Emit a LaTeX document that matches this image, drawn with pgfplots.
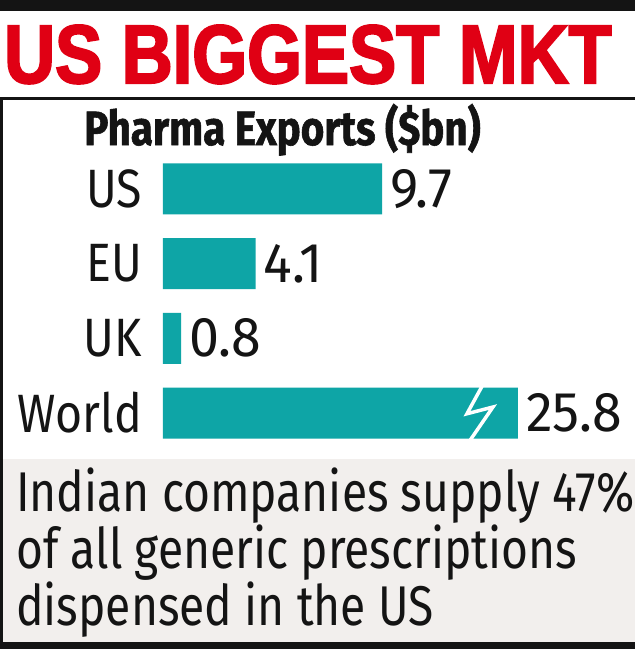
\documentclass[border=0pt]{standalone}
\usepackage{fontspec}
\usepackage{pgfplots}
\pgfplotsset{compat=1.18}
\newfontfamily\labfam{Fira Sans}[FakeStretch=0.86]
\newfontfamily\numfam{Fira Sans}[FakeStretch=0.96]
\newfontfamily\footfam{Fira Sans}[FakeStretch=0.825]
\newfontfamily\subfam{Fira Sans}[FakeStretch=0.84, FakeBold=1.2]
\newfontfamily\titfam{Liberation Sans}[FakeStretch=0.85, FakeBold=2.5]
\definecolor{titred}{RGB}{224,0,20}
\definecolor{barteal}{RGB}{14,165,166}
\definecolor{boxgray}{RGB}{242,239,237}
\definecolor{ink}{RGB}{20,20,20}
\newcommand\labf{\labfam\fontsize{54pt}{60pt}\selectfont}
\newcommand\numf{\numfam\fontsize{56pt}{60pt}\selectfont}
\begin{document}
\begin{tikzpicture}
\useasboundingbox (0pt,0pt) rectangle (635pt,-649pt);
\fill[white] (0pt,0pt) rectangle (635pt,-649pt);
% top black band
\fill[ink] (0pt,0pt) rectangle (635pt,-11pt);
% title
\node[anchor=base west, inner sep=0pt, text=titred] at (4pt,-83pt)
  {\titfam\bfseries\fontsize{83pt}{90pt}\selectfont US BIGGEST MKT};
% box top line and left border
\fill[ink] (0pt,-97pt) rectangle (635pt,-100pt);
\fill[ink] (0pt,-97pt) rectangle (3pt,-649pt);
% gray footer
\fill[boxgray] (3pt,-459pt) rectangle (635pt,-642pt);
\fill[ink] (0pt,-642pt) rectangle (635pt,-649pt);
% subtitle
\node[anchor=base west, inner sep=0pt, text=ink] at (84pt,-145pt)
  {\subfam\bfseries\fontsize{48pt}{54pt}\selectfont Pharma Exports (\$bn)};
% footer text
\node[anchor=base west, inner sep=0pt, text=ink] at (16pt,-511pt)
  {\footfam\fontsize{56pt}{60pt}\selectfont Indian companies supply 47\%};
\node[anchor=base west, inner sep=0pt, text=ink] at (16pt,-568pt)
  {\footfam\fontsize{56pt}{60pt}\selectfont of all generic prescriptions};
\node[anchor=base west, inner sep=0pt, text=ink] at (16pt,-625pt)
  {\footfam\fontsize{56pt}{60pt}\selectfont dispensed in the US};
\begin{axis}[
  at={(163pt,-450.35pt)}, anchor=south west,
  x=22.6pt, y=74.7pt,
  xmin=0, xmax=20, ymin=-0.5, ymax=3.5,
  xbar, bar width=51pt,
  axis line style={draw=none},
  xtick=\empty,
  ytick={0,1,2,3}, yticklabels={World,UK,EU,US},
  major tick length=0pt,
  yticklabel style={font=\labf, inner sep=0pt, anchor=east, xshift=-21pt, text=ink},
  nodes near coords, point meta=explicit symbolic,
  nodes near coords style={font=\numf, anchor=west, inner sep=0pt, xshift=8pt, text=ink},
  clip=false,
]
\addplot[fill=barteal, draw=none] coordinates {(9.7,3) [9.7] (4.1,2) [4.1] (0.8,1) [0.8] (15.7,0) [25.8]};
\draw[white, line width=3.5pt, line join=miter]
  (axis cs:14.12,0.36) -- (axis cs:13.45,-0.01) -- (axis cs:14.6,0.08) -- (axis cs:13.6,-0.36);
\end{axis}
\end{tikzpicture}
\end{document}
